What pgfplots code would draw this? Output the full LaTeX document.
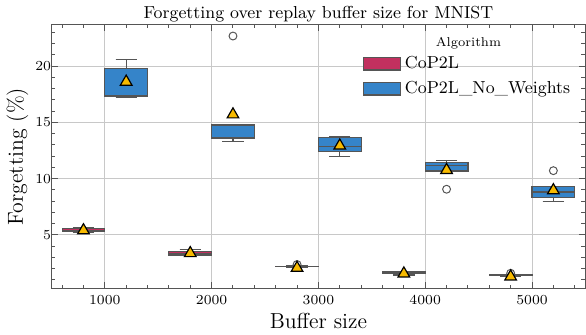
\documentclass[border=0pt]{standalone}
\usepackage{pgfplots}
\pgfplotsset{compat=1.18}
\usepgfplotslibrary{statistics}
\definecolor{redbox}{HTML}{C2305F}
\definecolor{bluebox}{HTML}{3584C9}
\definecolor{edgegray}{HTML}{555555}
\definecolor{meangold}{HTML}{F7BA00}
\definecolor{gridgray}{HTML}{C8C8C8}

\pgfplotsset{
  cbox/.style={solid, draw=edgegray, line width=0.6pt, fill=#1,
    mark=*, mark size=2pt, mark options={fill=white, draw=edgegray, line width=0.5pt}},
  meanmark/.style={only marks, mark=triangle*, mark size=3.4pt,
    mark options={fill=meangold, draw=black, line width=0.6pt}},
}

\begin{document}
\begin{tikzpicture}
\begin{axis}[
  width=269.5bp, height=133.3bp, scale only axis,
  xmin=-0.5, xmax=4.5, ymin=0.22, ymax=23.7,
  xtick={0,1,2,3,4}, xticklabels={1000,2000,3000,4000,5000},
  minor xtick={-0.4,-0.2,0.2,0.4,0.6,0.8,1.2,1.4,1.6,1.8,2.2,2.4,2.6,2.8,3.2,3.4,3.6,3.8,4.2,4.4},
  ytick={5,10,15,20}, minor ytick={1,2,...,23},
  tick align=inside, major tick length=3.5pt, minor tick length=2pt,
  tick style={edgegray, line width=0.5pt},
  axis line style={edgegray, line width=0.6pt},
  grid=major, grid style={gridgray, line width=0.5pt},
  tick label style={font=\fontsize{7}{8}\selectfont},
  yticklabel style={inner xsep=0pt},
  xlabel={Buffer size}, ylabel={Forgetting (\%)},
  label style={font=\fontsize{11}{13}\selectfont},
  xlabel style={yshift=3pt}, ylabel style={yshift=0pt},
  title={Forgetting over replay buffer size for MNIST},
  title style={font=\fontsize{8.8}{10}\selectfont, yshift=-8.5pt},
  boxplot/draw direction=y,
  boxplot/box extend=0.4, boxplot/whisker extend=0.2,
  legend style={at={(0.572,0.912)}, anchor=north west, draw=none, fill=none,
    font=\fontsize{8.8}{12.5}\selectfont, row sep=1pt},
  legend cell align=left,
  legend image code/.code={\draw[#1, draw=edgegray, line width=0.6pt] (0bp,-3.2bp) rectangle (18.5bp,3.2bp);},
]
% CoP2L
\addplot[cbox=redbox, boxplot prepared={draw position=-0.2,
  lower whisker=5.21, lower quartile=5.28, median=5.40, upper quartile=5.53, upper whisker=5.62}]
  coordinates {};
\addlegendentry{CoP2L}
\addplot[cbox=bluebox, boxplot prepared={draw position=0.2,
  lower whisker=17.22, lower quartile=17.30, median=17.35, upper quartile=19.76, upper whisker=20.58}]
  coordinates {};
\addlegendentry{CoP2L\_No\_Weights}
\addplot[cbox=redbox, forget plot, boxplot prepared={draw position=0.8,
  lower whisker=3.14, lower quartile=3.19, median=3.30, upper quartile=3.52, upper whisker=3.72}]
  coordinates {};
\addplot[cbox=bluebox, forget plot, boxplot prepared={draw position=1.2,
  lower whisker=13.31, lower quartile=13.60, median=14.75, upper quartile=14.83, upper whisker=14.83}]
  coordinates {(1.2,22.67)};
\addplot[cbox=redbox, forget plot, boxplot prepared={draw position=1.8,
  lower whisker=2.14, lower quartile=2.17, median=2.19, upper quartile=2.21, upper whisker=2.23}]
  coordinates {(1.8,2.36)};
\addplot[cbox=bluebox, forget plot, boxplot prepared={draw position=2.2,
  lower whisker=11.96, lower quartile=12.37, median=12.86, upper quartile=13.66, upper whisker=13.75}]
  coordinates {};
\addplot[cbox=redbox, forget plot, boxplot prepared={draw position=2.8,
  lower whisker=1.42, lower quartile=1.55, median=1.62, upper quartile=1.70, upper whisker=1.73}]
  coordinates {};
\addplot[cbox=bluebox, forget plot, boxplot prepared={draw position=3.2,
  lower whisker=10.67, lower quartile=10.67, median=11.15, upper quartile=11.46, upper whisker=11.60}]
  coordinates {(3.2,9.05)};
\addplot[cbox=redbox, forget plot, boxplot prepared={draw position=3.8,
  lower whisker=1.34, lower quartile=1.37, median=1.40, upper quartile=1.43, upper whisker=1.46}]
  coordinates {(3.8,1.58)};
\addplot[cbox=bluebox, forget plot, boxplot prepared={draw position=4.2,
  lower whisker=7.99, lower quartile=8.29, median=8.80, upper quartile=9.26, upper whisker=9.26}]
  coordinates {(4.2,10.70)};
% means
\addplot[meanmark, forget plot] coordinates {(-0.2,5.39) (0.8,3.36) (1.8,2.05) (2.8,1.55) (3.8,1.28)};
\addplot[meanmark, forget plot] coordinates {(0.2,18.6) (1.2,15.69) (2.2,12.92) (3.2,10.75) (4.2,8.95)};
\node[font=\fontsize{6.5}{8}\selectfont] at (rel axis cs:0.781,0.93) {Algorithm};
\end{axis}
\end{tikzpicture}
\end{document}
